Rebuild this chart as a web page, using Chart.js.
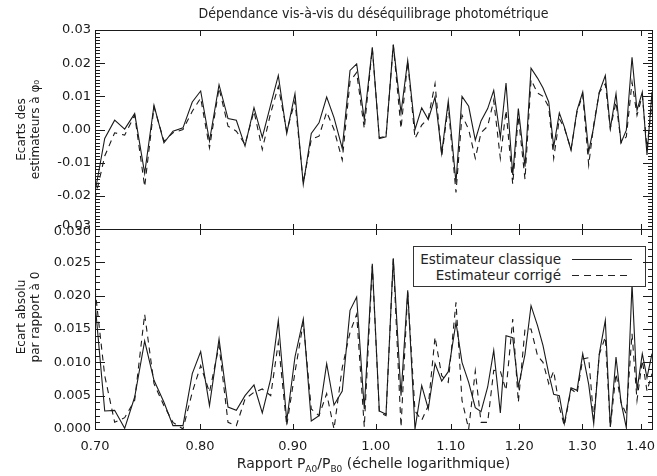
<!DOCTYPE html>
<html>
<head>
<meta charset="utf-8">
<script src="https://cdn.jsdelivr.net/npm/chart.js@4.4.0/dist/chart.umd.min.js"></script>
<style>
  html, body { margin: 0; padding: 0; background: #fff; }
  #wrap { position: relative; width: 657px; height: 476px; overflow: hidden; font-family: "DejaVu Sans", sans-serif; color: #222; }
  .panel { position: absolute; left: 0; width: 657px; }
  #pTop { top: 0; height: 240px; }
  #pBot { top: 219px; height: 257px; }
  #title { position: absolute; top: 5px; left: 95px; width: 557px; text-align: center; font-family: "DejaVu Sans Condensed", "DejaVu Sans", sans-serif; font-size: 14px; line-height: 16px; }
  #xtitle { position: absolute; top: 455px; left: 95px; width: 557px; text-align: center; font-size: 14px; line-height: 16px; }
  #xtitle sub { font-size: 9px; }
  #legend { position: absolute; left: 413px; top: 246px; width: 231px; height: 39px; border: 1px solid #333; background: #fff; font-size: 13.5px; }
  #legend .lt { position: absolute; right: 84px; line-height: 14px; white-space: nowrap; }
  #legend .ln { position: absolute; left: 158px; width: 60px; height: 1px; }
  .frame { position: absolute; box-sizing: border-box; border: 1.5px solid #1a1a1a; }
  .tk { position: absolute; background: #1a1a1a; }
</style>
</head>
<body>
<div id="wrap">
  <div class="panel" id="pTop"><canvas id="chartTop"></canvas></div>
  <div class="panel" id="pBot"><canvas id="chartBot"></canvas></div>
  <div id="title">Dépendance vis-à-vis du déséquilibrage photométrique</div>
  <div id="xtitle">Rapport P<sub>A0</sub>/P<sub>B0</sub> (échelle logarithmique)</div>
  <div id="legend">
    <div class="lt" style="top:5px">Estimateur classique</div>
    <div class="ln" style="top:12px; background:#222"></div>
    <div class="lt" style="top:21px">Estimateur corrigé</div>
    <div class="ln" style="top:28px; width:56px; background:repeating-linear-gradient(to right, #222 0 7px, transparent 7px 12px)"></div>
  </div>
</div>
<script>
// rapport P_A0/P_B0 (axe log)
const ratio = [
  0.7000, 0.7087, 0.7177, 0.7269, 0.7362, 0.7456, 0.7545, 0.7641, 0.7729, 0.7828,
  0.7921, 0.8006, 0.8096, 0.8195, 0.8289, 0.8377, 0.8470, 0.8567, 0.8658, 0.8751,
  0.8836, 0.8931, 0.9025, 0.9121, 0.9214, 0.9305, 0.9396, 0.9484, 0.9584, 0.9679,
  0.9761, 0.9856, 0.9957, 1.0046, 1.0132, 1.0226, 1.0327, 1.0415, 1.0512, 1.0602,
  1.0691, 1.0783, 1.0875, 1.0966, 1.1074, 1.1159, 1.1254, 1.1349, 1.1432, 1.1529,
  1.1618, 1.1716, 1.1801, 1.1902, 1.1987, 1.2089, 1.2182, 1.2283, 1.2369, 1.2459,
  1.2538, 1.2628, 1.2708, 1.2817, 1.2915, 1.3009, 1.3108, 1.3192, 1.3286, 1.3388,
  1.3473, 1.3571, 1.3658, 1.3750, 1.3850, 1.3938, 1.4032, 1.4116, 1.4206
];

// ecarts des estimateurs a phi0
const ecartClassique = [
  -0.019, -0.0027, 0.0028, 0.0001, 0.0048, -0.0132, 0.0073, -0.004, -0.0005, 0.0005,
  0.0083, 0.0116, -0.0035, 0.0135, 0.0033, 0.0028, -0.005, 0.0066, -0.0024, 0.0075,
  0.0163, -0.0012, 0.0108, -0.0165, -0.0012, 0.002, 0.0098, 0.0036, -0.0057, 0.0178,
  0.0198, 0.003, 0.0248, -0.0027, -0.0022, 0.0256, 0.005, 0.0208, 0.0, 0.0065,
  0.003, 0.0098, -0.0072, 0.0086, -0.016, 0.010, 0.007, -0.0032, 0.0026, 0.0063,
  0.0118, -0.0024, 0.014, -0.0137, 0.0063, -0.0112, 0.0185, 0.0155, 0.0125, 0.0083,
  -0.0052, 0.005, 0.0008, -0.0062, 0.0058, 0.0113, -0.0067, 0.0008, 0.0113, 0.0163,
  0.0003, 0.0108, -0.004, -0.0002, 0.0218, 0.0058, 0.0113, -0.0077, 0.0113
];
const ecartCorrige = [
  -0.021, -0.008, -0.001, -0.0017, 0.0043, -0.0172, 0.0068, -0.0035, -0.001, 0.0,
  0.0055, 0.0095, -0.0055, 0.0125, 0.001, -0.0005, -0.0045, 0.0055, -0.006, 0.005,
  0.013, -0.0005, 0.0085, -0.016, -0.003, -0.002, 0.0053, 0.0, -0.0092, 0.0145,
  0.0172, 0.0003, 0.0245, -0.0025, -0.002, 0.0255, 0.0003, 0.0205, -0.0027, 0.0013,
  0.0035, 0.0138, -0.008, 0.007, -0.019, 0.0043, 0.0, -0.0087, -0.001, 0.001,
  0.0088, -0.0087, 0.0058, -0.0165, 0.004, -0.015, 0.015, 0.011, 0.01, 0.0068,
  -0.0087, 0.0033, 0.0005, -0.006, 0.0053, 0.0105, -0.0107, 0.0015, 0.0112, 0.0138,
  0.0003, 0.0083, -0.004, -0.0022, 0.0143, 0.0043, 0.0103, -0.0057, 0.0083
];

const xTicks = [0.70, 0.80, 0.90, 1.00, 1.10, 1.20, 1.30, 1.40];
const yTicksTop = [-0.03, -0.02, -0.01, 0.0, 0.01, 0.02, 0.03];
const yTicksBot = [0.0, 0.005, 0.010, 0.015, 0.020, 0.025, 0.030];

const INK = '#1a1a1a';
// lineHeight only matters for the two split labels where the panels meet
const tickFont = { family: 'DejaVu Sans', size: 13, lineHeight: 0.45 };

const setTicks = vals => s => { s.ticks = vals.map(v => ({ value: v })); };

function minorTicks(min, max) {
  const out = [];
  for (let k = Math.round(min * 1000); k <= Math.round(max * 1000); k++) out.push(k / 1000);
  return out;
}

function points(ys, abs) {
  return ratio.map((r, i) => ({ x: r, y: abs ? Math.abs(ys[i]) : ys[i] }));
}

function makeChart(id, abs, yOpts, padding, xBottom) {
  return new Chart(document.getElementById(id), {
    type: 'line',
    data: {
      datasets: [
        { data: points(ecartClassique, abs), borderColor: INK, borderWidth: 1.1, pointRadius: 0, tension: 0 },
        { data: points(ecartCorrige, abs), borderColor: INK, borderWidth: 1.1, borderDash: [6, 5], pointRadius: 0, tension: 0 }
      ]
    },
    options: {
      responsive: true,
      maintainAspectRatio: false,
      animation: false,
      events: [],
      layout: { padding: padding },
      plugins: {
        legend: { display: false },
        tooltip: { enabled: false }
      },
      scales: {
        x: Object.assign({
          type: 'logarithmic', position: 'bottom',
          min: 0.7, max: 1.4206,
          afterBuildTicks: setTicks(xTicks),
          grid: { display: false, drawTicks: false },
          border: { display: false }
        }, xBottom),
        y: {
          position: 'left',
          min: yOpts.min, max: yOpts.max,
          afterBuildTicks: setTicks(yOpts.ticks),
          afterFit: s => { s.width = 95; s.paddingTop = 0; s.paddingBottom = 0; },
          grid: { display: false, drawTicks: false },
          border: { display: false },
          ticks: { padding: 4, color: INK, font: tickFont, callback: yOpts.label },
          title: { display: true, text: yOpts.title, color: INK, font: { family: 'DejaVu Sans', size: 12, lineHeight: 1.15 }, padding: { top: 15, bottom: 0 } }
        }
      }
    }
  });
}

// cadre + graduations vers l'interieur (facon IDL), places avec les echelles du graphique
function frame(chart, dy, yMin, yMax, every) {
  const wrap = document.getElementById('wrap');
  const a = chart.chartArea;
  const x = chart.scales.x, y = chart.scales.y;
  const add = (cls, l, t, w, h) => {
    const d = document.createElement('div');
    d.className = cls;
    d.style.left = l + 'px'; d.style.top = t + 'px';
    d.style.width = w + 'px'; d.style.height = h + 'px';
    wrap.appendChild(d);
  };
  const top = Math.round(a.top + dy), bottom = Math.round(a.bottom + dy);
  const left = Math.round(a.left), right = Math.round(a.right);
  add('frame', left, top, right - left + 1, bottom - top + 1);
  xTicks.forEach(v => {
    const px = Math.round(x.getPixelForValue(v));
    add('tk', px, top, 1, 6);
    add('tk', px, bottom - 5, 1, 6);
  });
  minorTicks(yMin, yMax).forEach((v, i) => {
    const py = Math.round(y.getPixelForValue(v) + dy);
    const len = i % every === 0 ? 10 : 5;
    add('tk', left, py, len, 1);
    add('tk', right - len + 1, py, len, 1);
  });
}

const chartTop = makeChart('chartTop', false,
  {
    min: -0.03, max: 0.03, ticks: yTicksTop,
    label: v => (v <= -0.0299 ? [v.toFixed(2), ''] : v.toFixed(2)),
    title: ['Ecarts des', 'estimateurs à φ₀']
  },
  { top: 30, right: 5, bottom: 11, left: 0 },
  {
    display: false,
    afterFit: s => { s.height = 0; s.paddingLeft = 0; s.paddingRight = 0; }
  });

const chartBot = makeChart('chartBot', true,
  {
    min: 0, max: 0.03, ticks: yTicksBot,
    label: v => (v >= 0.0299 ? ['', v.toFixed(3)] : v.toFixed(3)),
    title: ['\u2002\u2002\u2002\u2002Ecart absolu', '\u2002\u2002\u2002\u2002par rapport à 0']
  },
  { top: 10, right: 5, bottom: 0, left: 0 },
  {
    afterFit: s => { s.height = 47; s.paddingLeft = 0; s.paddingRight = 0; },
    ticks: { padding: 10, color: INK, font: { family: 'DejaVu Sans', size: 13 }, autoSkip: false, maxRotation: 0, callback: v => Number(v).toFixed(2) }
  });

frame(chartTop, 0, -0.03, 0.03, 10);
frame(chartBot, 219, 0, 0.03, 5);
</script>
</body>
</html>
